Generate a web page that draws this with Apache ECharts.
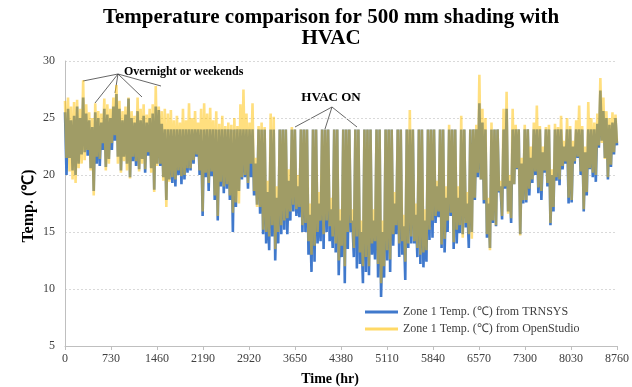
<!DOCTYPE html>
<html><head><meta charset="utf-8">
<script src="https://cdn.jsdelivr.net/npm/echarts/dist/echarts.min.js"></script>
<style>html,body{margin:0;padding:0;background:#fff}#c{width:632px;height:387px}</style>
</head><body><div id="c"></div>
<script>
// Hourly simulation read as 48-hour blocks: one daytime high and one night low per block
const blockHours = 48;
const xTicks = [0,730,1460,2190,2920,3650,4380,5110,5840,6570,7300,8030,8760];
const yTicks = [5,10,15,20,25,30];

const trnsysHigh = [
25.5,25.8,24.8,25.2,26.0,25.0,26.8,25.4,24.8,24.2,
25.5,25.0,24.6,25.8,25.3,25.0,26.0,27.1,25.8,24.8,
25.3,26.7,25.0,24.6,25.6,24.8,25.2,24.6,25.0,25.4,
26.0,25.7,24.5,24,24,24,24,24,24,24,
24,24,24,24,24,24,24,24,24,24,
24,24,24,24,24,24,24,24,24,24,
24,24,24,21.0,24,24,24,18.5,24,24,
18.0,24,24,24,19.5,24,24,19.0,24,24,
24,16.5,24,24,17.5,24,24,24,17.0,24,
24,16.0,24,24,24,16.0,24,24,15.0,24,
24,24,16.0,24,24,15.0,24,24,24,17.5,
24,24,15.5,24,24,24,16.5,24,24,16.0,
24,24,24,19.0,24,24,18.0,24,24,24,
18.0,24,24,17.5,24,24,24,26.3,24.6,24,
17.5,24,24,24,19.0,24,25.8,19.5,24,24,
24,21.0,24,24,21.5,24,24,24,22.0,24,
24,20.0,24,24,24,22.5,24,24,22.5,24,
24,24,22.0,24,24,24,24.5,27.4,25.6,25.0,
24.4,24.6,25.0];

const trnsysLow = [
20.0,21.5,20.4,20.0,21.0,21.8,22.0,21.7,20.6,18.6,
21.0,20.8,22.2,20.7,21.4,22.2,23.0,21.6,20.4,21.6,
21.0,19.8,21.2,20.8,20.5,21.4,20.2,21.7,20.6,18.7,
21.0,20.8,19.8,17.8,19.6,19.3,19.0,20.0,19.2,19.6,
20.2,20.4,21.0,21.6,20.0,16.4,19.8,18.6,19.9,17.8,
16.0,19.0,18.4,18.8,17.8,15.0,17.2,18.6,19.6,19.8,
18.8,19.8,18.2,17.4,16.6,14.8,14.0,13.4,14.6,12.5,
14.0,14.8,15.2,14.8,16.0,16.8,16.4,16.3,15.0,15.0,
13.0,11.5,12.4,14.0,14.2,13.5,15.0,14.2,13.6,13.2,
11.2,12.8,10.5,13.5,15.0,12.8,11.8,12.2,10.5,11.5,
11.2,13.0,12.6,11.0,9.3,11.0,12.5,11.5,13.8,14.8,
12.8,13.0,10.8,13.6,14.0,14.0,12.8,12.2,11.9,12.4,
14.3,14.5,15.8,16.3,13.6,13.2,15.0,16.4,13.5,14.0,
14.9,14.8,15.4,13.6,15.0,17.8,19.8,19.6,17.5,14.5,
13.6,15.8,15.5,18.5,16.1,18.8,16.8,15.8,19.2,20.5,
14.8,17.5,17.6,18.2,19.3,20.0,18.4,17.8,20.2,19.0,
15.6,16.8,19.5,19.1,20.5,21.0,17.5,17.6,21.0,21.5,
20.0,16.8,18.2,20.5,19.8,19.4,22.4,23.0,21.5,19.6,
20.7,21.8,22.6];

const openStudioHigh = [
26.5,26.8,26.0,26.4,26.6,25.8,28.3,26.2,25.5,25.0,
26.3,25.6,25.4,26.7,26.2,25.8,26.8,27.9,26.5,25.6,
26.0,26.8,25.6,25.2,26.8,25.8,26.2,25.3,25.8,26.2,
27.8,26.0,25.6,25.8,25.4,25.7,24.8,25.2,24.6,25.8,
24.8,26.3,25.0,25.6,24.6,25.8,26.3,25.4,25.9,24.8,
25.6,24.5,25.2,24.3,24.6,24.4,25.0,24.3,26.2,27.5,
25.4,24.6,26.3,21.5,24.3,24.6,24.2,19.5,25.4,25.1,
19.0,24,24,24,20.5,24.2,24,20.0,24,24,
24,17.5,24,24,18.5,24,24,24,18.0,24,
24,17.0,24,24,24,17.0,24,24,16.0,24,
24,24,17.0,24,24,16.0,24,24,24,18.5,
24,24,16.5,24,25.7,24,17.5,24,24,17.0,
24,24,24,19.5,24,24,19.0,24.4,24,24,
19.0,25.2,24,18.5,24,24,24.4,28.8,25.8,25.0,
18.0,24.6,24,24,19.5,25.8,27.3,20.0,25.8,24.4,
24,21.5,24.4,24,22.5,24.6,26.1,24.3,22.5,24.2,
24.4,20.5,24.5,24.2,25.2,23.0,25.0,24.3,23.0,24.8,
26.1,24.3,22.5,26.4,25.0,24.6,25.4,28.5,26.8,25.6,
25.0,25.5,25.3];

const openStudioLow = [
21.5,20.3,19.6,19.3,20.6,21.0,21.3,22.2,20.4,18.2,
21.6,21.4,22.8,20.4,21.0,22.8,23.5,21.0,20.2,21.2,
20.4,19.7,21.6,21.2,20.3,21.0,20.5,22.0,20.2,18.5,
20.8,21.0,19.5,17.2,19.4,19.8,19.6,20.4,19.9,20.0,
20.6,20.6,21.3,21.8,20.4,16.8,20.2,19.3,20.3,18.2,
16.4,19.4,19.0,19.2,18.2,16.7,17.6,17.5,19.8,20.0,
19.3,21.0,18.6,17.2,17.2,15.2,15.0,14.6,15.6,13.5,
15.0,15.6,16.0,16.2,16.8,17.4,17.0,17.2,15.6,15.8,
14.2,13.0,13.8,15.0,16.0,14.8,16.0,15.5,14.6,14.0,
12.5,13.8,12.0,15.0,15.8,13.6,14.6,13.2,12.0,12.8,
12.0,14.0,14.2,12.2,10.5,12.0,13.4,12.6,14.8,15.6,
14.0,14.2,12.4,14.0,14.6,14.2,13.6,13.0,13.2,13.4,
15.2,16.0,16.4,16.8,13.9,14.4,16.0,16.7,14.1,15.2,
15.6,14.5,15.8,14.8,14.4,18.0,20.2,19.6,17.8,14.8,
13.4,16.0,15.6,18.6,16.4,19.0,16.6,16.2,19.2,20.6,
14.7,17.8,17.8,18.8,19.6,20.3,18.9,18.6,20.4,19.3,
15.8,17.2,19.8,19.6,20.8,21.2,18.0,17.8,21.2,21.6,
20.3,17.0,18.5,20.6,20.2,20.0,22.6,22.8,21.4,19.8,
20.9,22.0,22.8];

const seriesNames = ['Zone 1 Temp. (\u2103) from TRNSYS', 'Zone 1 Temp. (\u2103) from OpenStudio'];

function toPoints(hi, lo) {
  const pts = [];
  for (let k = 0; k < hi.length; k++) {
    pts.push([k * blockHours, hi[k]]);
    pts.push([k * blockHours + blockHours / 2, lo[k]]);
  }
  return pts;
}

const SERIF = '"Liberation Serif","Times New Roman",serif';
const BLUE = '#4079cc';
const YELLOW = '#ffc000';

const chart = echarts.init(document.getElementById('c'), null, {renderer: 'canvas'});
chart.setOption({
  animation: false,
  backgroundColor: '#fff',
  grid: {left: 65, right: 12, top: 61, bottom: 41},
  xAxis: {
    type: 'value', min: xTicks[0], max: xTicks[xTicks.length - 1], interval: 730,
    axisLine: {lineStyle: {color: '#bfbfbf', width: 1}},
    axisTick: {show: true, length: 4, lineStyle: {color: '#bfbfbf'}},
    axisLabel: {fontFamily: SERIF, fontSize: 12, color: '#404040', margin: 7, formatter: v => String(v)},
    splitLine: {show: false}
  },
  yAxis: {
    type: 'value', min: yTicks[0], max: yTicks[yTicks.length - 1], interval: 5,
    axisLine: {show: true, lineStyle: {color: '#bfbfbf', width: 1}},
    axisTick: {show: false},
    axisLabel: {fontFamily: SERIF, fontSize: 12, color: '#404040', margin: 10},
    splitLine: {show: true, lineStyle: {color: '#d9d9d9', type: [2, 2], width: 1}}
  },
  legend: {
    orient: 'vertical', left: 357, top: 303, itemWidth: 33, itemHeight: 3, itemGap: 5,
    padding: [3, 8, 3, 8], backgroundColor: '#fff', icon: 'rect',
    textStyle: {fontFamily: SERIF, fontSize: 12, color: '#404040'},
    data: [
      {name: seriesNames[0], itemStyle: {color: BLUE}},
      {name: seriesNames[1], itemStyle: {color: '#ffd966'}}
    ]
  },
  series: [
    {name: seriesNames[0], type: 'line', data: toPoints(trnsysHigh, trnsysLow),
     showSymbol: false, z: 2, lineStyle: {color: BLUE, width: 2.6}, itemStyle: {color: BLUE}},
    {name: seriesNames[1], type: 'line', data: toPoints(openStudioHigh, openStudioLow),
     showSymbol: false, z: 3, lineStyle: {color: YELLOW, width: 2.6, opacity: 0.5}, itemStyle: {color: YELLOW}}
  ],
  graphic: [
    {type: 'text', x: 331, y: 7, style: {text: 'Temperature comparison for 500 mm shading with\nHVAC',
      font: 'bold 21px ' + SERIF, fill: '#000', textAlign: 'center', lineHeight: 21}},
    {type: 'text', x: 330, y: 379, style: {text: 'Time (hr)', font: 'bold 14px ' + SERIF, fill: '#000', textAlign: 'center', textVerticalAlign: 'middle'}},
    {type: 'text', x: 29, y: 206, rotation: Math.PI / 2, style: {text: 'Temp. (\u2103)', font: 'bold 16px ' + SERIF, fill: '#000', textAlign: 'center', textVerticalAlign: 'middle'}},
    {type: 'text', x: 124, y: 72, style: {text: 'Overnight or weekends', font: 'bold 12px ' + SERIF, fill: '#000', textVerticalAlign: 'middle'}},
    {type: 'text', x: 331, y: 98, style: {text: 'HVAC ON', font: 'bold 13px ' + SERIF, fill: '#000', textAlign: 'center', textVerticalAlign: 'middle'}},
    {type: 'polyline', shape: {points: [[83, 81], [118, 74], [161, 86]]}, style: {stroke: '#404040', lineWidth: 0.8, fill: null}},
    {type: 'line', shape: {x1: 118, y1: 74, x2: 95, y2: 103}, style: {stroke: '#404040', lineWidth: 0.8}},
    {type: 'line', shape: {x1: 118, y1: 74, x2: 115, y2: 93}, style: {stroke: '#404040', lineWidth: 0.8}},
    {type: 'line', shape: {x1: 118, y1: 74, x2: 142, y2: 97}, style: {stroke: '#404040', lineWidth: 0.8}},
    {type: 'line', shape: {x1: 332, y1: 107, x2: 295, y2: 127}, style: {stroke: '#404040', lineWidth: 0.8}},
    {type: 'line', shape: {x1: 332, y1: 107, x2: 325, y2: 129}, style: {stroke: '#404040', lineWidth: 0.8}},
    {type: 'line', shape: {x1: 332, y1: 107, x2: 357, y2: 127}, style: {stroke: '#404040', lineWidth: 0.8}}
  ]
});
</script></body></html>
